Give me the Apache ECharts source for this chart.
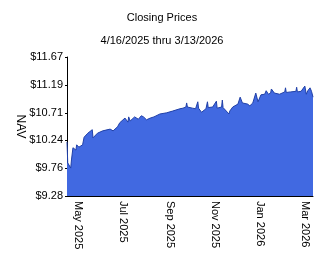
<!DOCTYPE html>
<html>
<head>
<meta charset="utf-8">
<script src="https://cdn.jsdelivr.net/npm/echarts@6/dist/echarts.min.js"></script>
<style>
  html, body { margin: 0; padding: 0; background: #fff; }
  #chart { width: 324px; height: 267px; }
</style>
</head>
<body>
<div id="chart"></div>
<script>
// closing prices
var dates = [
  '2025-04-16','2025-04-17','2025-04-21','2025-04-22','2025-04-24','2025-04-28','2025-04-29',
  '2025-05-02','2025-05-07','2025-05-09','2025-05-14','2025-05-20','2025-05-21','2025-05-27',
  '2025-06-03','2025-06-13','2025-06-17','2025-06-23','2025-06-26',
  '2025-07-03','2025-07-07','2025-07-08','2025-07-10','2025-07-11','2025-07-16','2025-07-21','2025-07-25','2025-07-28',
  '2025-08-01','2025-08-06','2025-08-11','2025-08-19','2025-08-28',
  '2025-09-05','2025-09-15','2025-09-19','2025-09-23','2025-09-24','2025-09-25',
  '2025-10-02','2025-10-06','2025-10-08','2025-10-09','2025-10-10','2025-10-14','2025-10-20','2025-10-21',
  '2025-10-22','2025-10-23','2025-10-29','2025-10-31',
  '2025-11-03','2025-11-04','2025-11-10','2025-11-11','2025-11-12','2025-11-14','2025-11-20','2025-11-21','2025-11-25',
  '2025-12-02','2025-12-04','2025-12-05','2025-12-08','2025-12-15','2025-12-18','2025-12-22','2025-12-24','2025-12-26','2025-12-29',
  '2026-01-02','2026-01-07','2026-01-08','2026-01-09','2026-01-12','2026-01-14','2026-01-15','2026-01-16','2026-01-20','2026-01-27',
  '2026-02-03','2026-02-04','2026-02-05','2026-02-11','2026-02-13','2026-02-18','2026-02-19','2026-02-20','2026-02-25','2026-02-27',
  '2026-03-02','2026-03-04','2026-03-06','2026-03-09','2026-03-11','2026-03-13'
];
var navValues = [
  10.21, 9.85, 9.76, 9.90, 10.11, 10.07, 10.16,
  10.12, 10.16, 10.29, 10.36, 10.42, 10.28, 10.36,
  10.40, 10.43, 10.40, 10.47, 10.54,
  10.62, 10.55, 10.64, 10.57, 10.59, 10.64, 10.60, 10.66, 10.64,
  10.59, 10.62, 10.64, 10.69, 10.71,
  10.74, 10.78, 10.79, 10.81, 10.88, 10.81,
  10.79, 10.78, 10.80, 10.90, 10.79, 10.72, 10.78, 10.79,
  10.90, 10.80, 10.81, 10.80,
  10.91, 10.79, 10.81, 10.93, 10.80, 10.79, 10.69, 10.74, 10.81,
  10.86, 10.86, 10.98, 10.88, 10.86, 10.83, 10.88, 10.89, 11.05, 10.90,
  11.02, 11.03, 11.04, 11.09, 11.03, 11.03, 11.05, 11.12, 11.05, 11.03,
  11.07, 11.14, 11.06, 11.07, 11.07, 11.08, 11.15, 11.07, 11.08, 11.10,
  11.17, 11.03, 11.09, 11.14, 11.08, 10.98
];
var yTicks = [9.28, 9.76, 10.24, 10.71, 11.19, 11.67];
var xTickDates = ['2025-05-01','2025-07-01','2025-09-01','2025-11-01','2026-01-01','2026-03-02'];
var monthNames = ['Jan','Feb','Mar','Apr','May','Jun','Jul','Aug','Sep','Oct','Nov','Dec'];

var font = '"Liberation Sans", Arial, sans-serif';
var chart = echarts.init(document.getElementById('chart'));

function toTime(d) { return new Date(d + 'T00:00:00Z').getTime(); }
var points = dates.map(function (d, i) { return [toTime(d), navValues[i]]; });
var xTicks = xTickDates.map(toTime);

chart.setOption({
  animation: false,
  backgroundColor: '#fff',
  title: [
    { text: 'Closing Prices', left: 'center', top: 7,
      textStyle: { fontFamily: font, fontSize: 11, fontWeight: 'normal', color: '#000' } },
    { text: '4/16/2025 thru 3/13/2026', left: 'center', top: 30,
      textStyle: { fontFamily: font, fontSize: 11, fontWeight: 'normal', color: '#000' } }
  ],
  grid: { left: 67, right: 11, top: 57, bottom: 71 },
  xAxis: {
    type: 'value',
    min: toTime(dates[0]),
    max: toTime(dates[dates.length - 1]),
    axisLine: { lineStyle: { color: '#000', width: 1 } },
    axisTick: { show: false },
    splitLine: { show: false },
    axisLabel: {
      customValues: xTicks,
      rotate: -90,
      margin: 5,
      fontFamily: font,
      fontSize: 11,
      color: '#000',
      formatter: function (v) {
        var d = new Date(v);
        return monthNames[d.getUTCMonth()] + ' ' + d.getUTCFullYear();
      }
    }
  },
  yAxis: {
    type: 'value',
    min: yTicks[0],
    max: yTicks[yTicks.length - 1],
    name: 'NAV',
    nameLocation: 'middle',
    nameRotate: -90,
    nameGap: 41,
    nameMoveOverlap: false,
    nameTextStyle: { fontFamily: font, fontSize: 12, color: '#000' },
    axisLine: { show: true, lineStyle: { color: '#000', width: 1 } },
    axisTick: { show: true, length: 2, customValues: yTicks, lineStyle: { color: '#000' } },
    splitLine: { show: false },
    axisLabel: {
      customValues: yTicks,
      margin: 4,
      fontFamily: font,
      fontSize: 11,
      color: '#000',
      formatter: function (v) { return '$' + v.toFixed(2); }
    }
  },
  series: [{
    type: 'line',
    data: points,
    symbol: 'none',
    lineStyle: { color: '#2040a8', width: 1 },
    areaStyle: { color: '#4169e1', opacity: 1 }
  }]
});
</script>
</body>
</html>
